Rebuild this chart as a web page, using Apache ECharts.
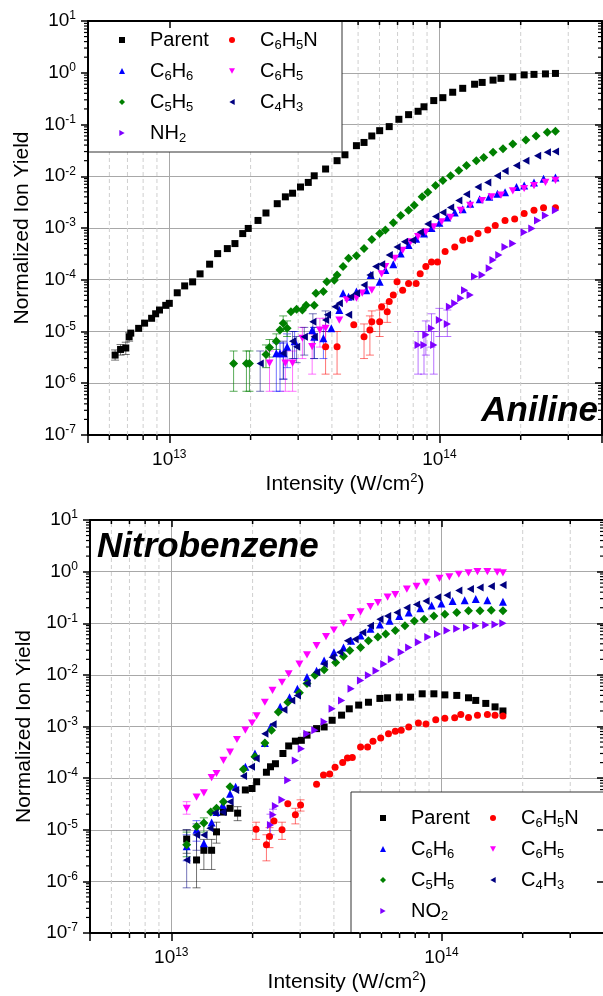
<!DOCTYPE html>
<html>
<head>
<meta charset="utf-8">
<script src="https://cdn.jsdelivr.net/npm/echarts/dist/echarts.min.js"></script>
<style>
html, body { margin: 0; background: #fff; }
#chart { width: 603px; height: 996px; }
</style>
</head>
<body>
<div id="chart"></div>
<script>
// ---- Aniline (top panel) : [intensity W/cm2, normalized yield]
var aniParent = [[6.3e12,3.5e-6],[6.6e12,4.5e-6],[6.9e12,4.8e-6],[7.1e12,7.9e-6],[7.2e12,9.3e-6],[7.7e12,1.15e-5],[8.1e12,1.45e-5],[8.6e12,1.8e-5],[8.9e12,2.2e-5],[9.2e12,2.6e-5],[9.7e12,3.2e-5],[1.0e13,3.5e-5],[1.07e13,5.6e-5],[1.14e13,7.6e-5],[1.22e13,9.1e-5],[1.30e13,1.3e-4],[1.41e13,2.0e-4],[1.51e13,3.2e-4],[1.64e13,4.0e-4],[1.75e13,5.0e-4],[1.87e13,7.8e-4],[1.96e13,9.8e-4],[2.13e13,1.4e-3],[2.28e13,1.95e-3],[2.51e13,2.95e-3],[2.69e13,4.0e-3],[2.86e13,4.7e-3],[3.06e13,6.2e-3],[3.27e13,7.6e-3],[3.44e13,1.02e-2],[3.79e13,1.38e-2],[4.18e13,2.0e-2],[4.47e13,2.6e-2],[4.93e13,3.9e-2],[5.26e13,4.5e-2],[5.62e13,6.0e-2],[6.01e13,7.6e-2],[6.52e13,9.1e-2],[7.08e13,0.126],[7.69e13,0.155],[8.34e13,0.18],[8.77e13,0.22],[9.53e13,0.29],[1.03e14,0.33],[1.12e14,0.42],[1.22e14,0.50],[1.35e14,0.60],[1.44e14,0.65],[1.58e14,0.72],[1.69e14,0.78],[1.87e14,0.83],[2.06e14,0.91],[2.24e14,0.93],[2.47e14,0.95],[2.69e14,0.97]];
var aniC6H5N = [[3.79e13,5.1e-6],[4.18e13,5.1e-6],[4.82e13,1.35e-5],[5.26e13,7.9e-6],[5.53e13,1.07e-5],[5.62e13,1.55e-5],[6.01e13,1.55e-5],[6.11e13,3.0e-5],[6.41e13,2.4e-5],[6.52e13,3.8e-5],[6.75e13,5.1e-5],[6.97e13,9.1e-5],[7.31e13,6.3e-5],[7.69e13,8.5e-5],[8.20e13,8.5e-5],[8.49e13,1.3e-4],[8.91e13,1.8e-4],[9.35e13,2.2e-4],[9.84e13,2.2e-4],[1.05e14,3.5e-4],[1.14e14,4.3e-4],[1.22e14,5.8e-4],[1.30e14,6.2e-4],[1.39e14,7.8e-4],[1.51e14,9.1e-4],[1.61e14,1.12e-3],[1.75e14,1.4e-3],[1.90e14,1.5e-3],[2.06e14,1.9e-3],[2.24e14,2.2e-3],[2.43e14,2.45e-3],[2.69e14,2.45e-3]];
var aniC6H6 = [[2.49e13,3.8e-6],[2.57e13,3.8e-6],[2.65e13,3.8e-6],[2.73e13,5.1e-6],[2.91e13,6.5e-6],[3.38e13,1.07e-5],[3.44e13,7.9e-6],[3.72e13,7.4e-6],[3.98e13,1.15e-5],[4.26e13,2.6e-5],[4.40e13,5.5e-5],[4.61e13,4.7e-5],[4.93e13,5.9e-5],[5.36e13,6.3e-5],[5.57e13,1.23e-4],[6.01e13,9.1e-5],[6.31e13,1.55e-4],[6.75e13,2.0e-4],[7.19e13,3.2e-4],[7.69e13,4.7e-4],[8.20e13,6.2e-4],[8.77e13,7.8e-4],[9.35e13,1.0e-3],[1.0e14,1.26e-3],[1.07e14,1.6e-3],[1.14e14,2.0e-3],[1.22e14,2.3e-3],[1.30e14,2.95e-3],[1.41e14,3.6e-3],[1.53e14,4.0e-3],[1.64e14,4.6e-3],[1.75e14,4.9e-3],[1.93e14,6.2e-3],[2.06e14,6.6e-3],[2.24e14,7.6e-3],[2.43e14,8.9e-3],[2.69e14,9.5e-3]];
var aniC6H5 = [[2.35e13,2.45e-6],[2.69e13,2.45e-6],[2.86e13,2.45e-6],[3.11e13,7.4e-6],[3.38e13,5.1e-6],[3.61e13,1.07e-5],[3.79e13,1.15e-5],[4.26e13,1.66e-5],[4.54e13,4.1e-5],[4.93e13,4.4e-5],[5.18e13,5.5e-5],[5.62e13,6.3e-5],[6.11e13,1.3e-4],[6.31e13,1.8e-4],[6.85e13,2.6e-4],[7.31e13,3.7e-4],[7.82e13,5.4e-4],[8.34e13,6.8e-4],[8.91e13,8.3e-4],[9.53e13,1.05e-3],[1.02e14,1.32e-3],[1.10e14,1.6e-3],[1.20e14,2.2e-3],[1.30e14,2.75e-3],[1.44e14,3.4e-3],[1.56e14,4.0e-3],[1.69e14,4.3e-3],[1.87e14,5.2e-3],[2.06e14,5.8e-3],[2.24e14,6.6e-3],[2.47e14,7.6e-3],[2.69e14,8.3e-3]];
var aniC5H5 = [[1.73e13,2.4e-6],[1.93e13,2.4e-6],[1.98e13,2.4e-6],[2.28e13,3.6e-6],[2.35e13,4.9e-6],[2.49e13,6.5e-6],[2.57e13,1.07e-5],[2.64e13,1.45e-5],[2.73e13,1.15e-5],[2.82e13,2.4e-5],[2.96e13,2.7e-5],[3.11e13,2.6e-5],[3.21e13,3.2e-5],[3.44e13,3.2e-5],[3.49e13,5.5e-5],[3.72e13,5.9e-5],[3.83e13,9.1e-5],[4.08e13,9.8e-5],[4.18e13,1.23e-4],[4.40e13,1.8e-4],[4.61e13,2.6e-4],[4.93e13,2.9e-4],[5.26e13,4.0e-4],[5.62e13,6.0e-4],[6.01e13,7.8e-4],[6.31e13,9.1e-4],[6.75e13,1.26e-3],[7.19e13,1.74e-3],[7.69e13,2.2e-3],[8.07e13,2.75e-3],[8.63e13,4.0e-3],[9.06e13,4.9e-3],[9.68e13,6.6e-3],[1.03e14,8.3e-3],[1.10e14,1.02e-2],[1.18e14,1.29e-2],[1.26e14,1.62e-2],[1.37e14,2.0e-2],[1.46e14,2.3e-2],[1.58e14,2.9e-2],[1.72e14,3.4e-2],[1.87e14,4.2e-2],[2.09e14,5.0e-2],[2.28e14,6.0e-2],[2.51e14,7.1e-2],[2.69e14,7.4e-2]];
var aniC4H3 = [[2.17e13,2.4e-6],[2.64e13,3.8e-6],[2.86e13,6.5e-6],[2.96e13,5.1e-6],[3.16e13,7.9e-6],[3.44e13,7.9e-6],[3.40e13,1.55e-5],[3.79e13,1.66e-5],[3.85e13,2.1e-5],[4.11e13,3.0e-5],[4.26e13,3.5e-5],[4.61e13,2.1e-5],[4.69e13,4.7e-5],[4.93e13,5.5e-5],[5.26e13,7.9e-5],[5.53e13,1.23e-4],[5.81e13,1.8e-4],[6.11e13,2.0e-4],[6.52e13,3.0e-4],[6.97e13,4.3e-4],[7.43e13,5.4e-4],[7.94e13,5.8e-4],[8.49e13,8.3e-4],[9.06e13,1.2e-3],[9.68e13,1.66e-3],[1.03e14,2.0e-3],[1.10e14,2.5e-3],[1.18e14,3.4e-3],[1.26e14,4.5e-3],[1.39e14,6.2e-3],[1.51e14,7.6e-3],[1.64e14,1.02e-2],[1.75e14,1.26e-2],[1.93e14,1.62e-2],[2.09e14,2.0e-2],[2.31e14,2.5e-2],[2.51e14,2.9e-2],[2.69e14,3.0e-2]];
var aniNH2 = [[8.34e13,5.5e-6],[8.77e13,5.5e-6],[9.53e13,5.5e-6],[8.91e13,8.7e-6],[9.35e13,1.15e-5],[1.0e14,1.66e-5],[1.07e14,1.4e-5],[1.09e14,3.0e-5],[1.14e14,3.5e-5],[1.20e14,4.4e-5],[1.24e14,6.3e-5],[1.30e14,5.1e-5],[1.35e14,1.15e-4],[1.44e14,1.23e-4],[1.53e14,1.66e-4],[1.58e14,2.4e-4],[1.66e14,3.0e-4],[1.75e14,4.3e-4],[1.87e14,5.0e-4],[2.06e14,8.3e-4],[2.20e14,9.8e-4],[2.31e14,1.4e-3],[2.47e14,1.74e-3],[2.69e14,2.2e-3]];

// error bars: [intensity, low, high]
var aniErrParent = [[6.3e12,2.8e-6,4.4e-6],[6.6e12,3.5e-6,5.6e-6],[6.9e12,3.6e-6,6.2e-6],[7.1e12,6.5e-6,9.5e-6]];
var aniErrC6H5N = [[3.79e13,1.5e-6,1.0e-5],[4.18e13,1.5e-6,1.0e-5],[5.26e13,3e-6,1.4e-5],[5.53e13,3.5e-6,2e-5],[5.62e13,1.0e-5,2.5e-5],[6.01e13,8e-6,2.6e-5],[6.41e13,1.5e-5,3.5e-5]];
var aniErrC6H6 = [[2.49e13,7e-7,6e-6],[2.57e13,7e-7,6e-6],[2.65e13,1.2e-6,6e-6],[2.73e13,2e-6,9e-6],[2.91e13,3e-6,1.0e-5],[3.44e13,3e-6,1.2e-5],[3.72e13,3e-6,1.2e-5]];
var aniErrC6H5 = [[2.35e13,7e-7,4.2e-6],[2.69e13,7e-7,4.2e-6],[2.86e13,7e-7,4.2e-6],[3.11e13,3e-6,1.2e-5],[3.38e13,1.5e-6,9e-6],[3.61e13,5e-6,1.8e-5],[3.79e13,5e-6,1.8e-5]];
var aniErrC5H5 = [[1.73e13,7e-7,4.2e-6],[1.93e13,7e-7,4.2e-6],[1.98e13,7e-7,4.2e-6],[2.28e13,2e-6,5.5e-6],[2.35e13,3.2e-6,7e-6],[2.49e13,4.5e-6,9e-6],[2.64e13,1.0e-5,2.0e-5],[2.73e13,8e-6,1.6e-5]];
var aniErrC4H3 = [[2.17e13,7e-7,4.2e-6],[2.64e13,1.2e-6,6.5e-6],[2.86e13,3e-6,1.0e-5],[2.96e13,2.5e-6,8e-6],[3.16e13,3.5e-6,1.2e-5],[3.44e13,3e-6,1.2e-5],[3.40e13,9e-6,2.2e-5],[3.79e13,1.0e-5,2.5e-5]];
var aniErrNH2 = [[8.34e13,1.5e-6,1e-5],[8.77e13,1.5e-6,1e-5],[9.53e13,1.5e-6,1e-5],[8.91e13,3.5e-6,1.6e-5],[9.35e13,5e-6,2.2e-5],[1.0e14,8e-6,2.8e-5],[1.07e14,8e-6,2.6e-5]];

// ---- Nitrobenzene (bottom panel)
var nbParent = [[1.14e13,6.6e-6],[1.24e13,2.6e-6],[1.32e13,4.0e-6],[1.41e13,4.0e-6],[1.47e13,9.1e-6],[1.56e13,2.2e-5],[1.65e13,2.6e-5],[1.76e13,2.1e-5],[1.88e13,5.9e-5],[1.99e13,6.3e-5],[2.07e13,8.5e-5],[2.25e13,1.3e-4],[2.33e13,1.66e-4],[2.43e13,1.9e-4],[2.59e13,3.0e-4],[2.72e13,4.2e-4],[2.88e13,5.2e-4],[3.03e13,5.4e-4],[3.18e13,6.8e-4],[3.45e13,9.1e-4],[3.68e13,9.8e-4],[3.94e13,1.32e-3],[4.27e13,1.66e-3],[4.56e13,2.2e-3],[4.94e13,2.6e-3],[5.37e13,2.95e-3],[5.92e13,3.5e-3],[6.32e13,3.6e-3],[6.98e13,3.7e-3],[7.69e13,3.7e-3],[8.49e13,4.3e-3],[9.38e13,4.3e-3],[1.03e14,4.1e-3],[1.14e14,4.0e-3],[1.26e14,3.6e-3],[1.34e14,3.2e-3],[1.46e14,2.8e-3],[1.58e14,2.4e-3],[1.69e14,2.0e-3]];
var nbC6H5N = [[2.06e13,1.02e-5],[2.25e13,5.1e-6],[2.31e13,7.4e-6],[2.40e13,1.48e-5],[2.57e13,1.0e-5],[2.70e13,3.2e-5],[2.88e13,1.95e-5],[3.01e13,3.0e-5],[3.45e13,7.6e-5],[3.66e13,1.15e-4],[3.86e13,1.2e-4],[4.04e13,1.62e-4],[4.31e13,2.0e-4],[4.49e13,2.45e-4],[4.68e13,2.5e-4],[5.02e13,4.0e-4],[5.33e13,4.0e-4],[5.58e13,5.2e-4],[5.96e13,6.0e-4],[6.37e13,7.2e-4],[6.75e13,8.1e-4],[7.10e13,8.5e-4],[7.57e13,9.8e-4],[8.22e13,1.17e-3],[8.77e13,1.12e-3],[9.53e13,1.35e-3],[1.03e14,1.45e-3],[1.12e14,1.48e-3],[1.18e14,1.7e-3],[1.26e14,1.5e-3],[1.36e14,1.66e-3],[1.48e14,1.7e-3],[1.58e14,1.66e-3],[1.69e14,1.6e-3]];
var nbC6H6 = [[1.14e13,4.8e-6],[1.24e13,1.0e-5],[1.32e13,5.5e-6],[1.41e13,1.38e-5],[1.47e13,2.2e-5],[1.55e13,3.0e-5],[1.65e13,5.0e-5],[1.73e13,6.8e-5],[1.88e13,1.66e-4],[2.04e13,3.0e-4],[2.22e13,4.8e-4],[2.33e13,9.8e-4],[2.53e13,2.4e-3],[2.74e13,3.7e-3],[2.93e13,5.4e-3],[3.18e13,9.1e-3],[3.45e13,1.2e-2],[3.68e13,1.9e-2],[4.00e13,2.75e-2],[4.34e13,3.4e-2],[4.63e13,4.6e-2],[5.02e13,5.8e-2],[5.46e13,7.8e-2],[5.92e13,9.5e-2],[6.43e13,0.112],[6.98e13,0.138],[7.57e13,0.162],[8.36e13,0.195],[9.20e13,0.22],[1.0e14,0.24],[1.10e14,0.27],[1.22e14,0.28],[1.34e14,0.295],[1.48e14,0.28],[1.69e14,0.26]];
var nbC6H5 = [[1.14e13,2.6e-5],[1.24e13,4.3e-5],[1.32e13,5.2e-5],[1.41e13,1.02e-4],[1.47e13,1.23e-4],[1.56e13,2.2e-4],[1.65e13,3.2e-4],[1.75e13,5.6e-4],[1.88e13,8.5e-4],[1.99e13,1.17e-3],[2.07e13,1.6e-3],[2.22e13,2.95e-3],[2.37e13,5.0e-3],[2.57e13,7.2e-3],[2.72e13,1.05e-2],[2.98e13,1.62e-2],[3.18e13,2.45e-2],[3.45e13,3.7e-2],[3.74e13,5.5e-2],[4.00e13,7.4e-2],[4.34e13,0.10],[4.63e13,0.129],[5.02e13,0.166],[5.46e13,0.21],[5.82e13,0.25],[6.32e13,0.32],[6.75e13,0.36],[7.45e13,0.46],[8.09e13,0.52],[8.77e13,0.62],[9.84e13,0.74],[1.07e14,0.79],[1.16e14,0.89],[1.26e14,0.95],[1.36e14,1.0],[1.48e14,1.0],[1.61e14,0.98],[1.69e14,0.95]];
var nbC5H5 = [[1.14e13,5.1e-6],[1.24e13,1.15e-5],[1.32e13,1.35e-5],[1.40e13,2.2e-5],[1.47e13,2.6e-5],[1.56e13,3.5e-5],[1.65e13,6.8e-5],[1.85e13,1.48e-4],[2.04e13,2.6e-4],[2.22e13,4.8e-4],[2.35e13,8.5e-4],[2.49e13,1.9e-3],[2.70e13,2.95e-3],[2.98e13,4.5e-3],[3.18e13,6.8e-3],[3.40e13,9.8e-3],[3.68e13,1.26e-2],[4.06e13,1.74e-2],[4.34e13,2.3e-2],[4.58e13,2.95e-2],[5.02e13,3.4e-2],[5.37e13,4.6e-2],[5.82e13,5.4e-2],[6.22e13,6.2e-2],[6.75e13,7.2e-2],[7.33e13,8.9e-2],[7.94e13,0.11],[8.63e13,0.12],[9.38e13,0.138],[1.03e14,0.15],[1.14e14,0.162],[1.26e14,0.174],[1.39e14,0.174],[1.53e14,0.178],[1.69e14,0.174]];
var nbC4H3 = [[1.14e13,2.6e-6],[1.24e13,7.9e-6],[1.32e13,7.9e-6],[1.39e13,1.07e-5],[1.45e13,2.1e-5],[1.55e13,2.2e-5],[1.65e13,3.5e-5],[1.73e13,5.9e-5],[1.85e13,1.1e-4],[1.98e13,1.66e-4],[2.06e13,2.4e-4],[2.22e13,7.2e-4],[2.38e13,1.1e-3],[2.61e13,2.1e-3],[2.79e13,3.2e-3],[2.93e13,4.0e-3],[3.18e13,6.9e-3],[3.45e13,1.12e-2],[3.68e13,1.62e-2],[3.94e13,2.2e-2],[4.20e13,2.75e-2],[4.49e13,4.6e-2],[4.79e13,4.9e-2],[5.11e13,6.6e-2],[5.46e13,8.9e-2],[5.92e13,0.12],[6.32e13,0.138],[6.85e13,0.162],[7.45e13,0.20],[8.09e13,0.23],[8.77e13,0.27],[9.68e13,0.32],[1.05e14,0.35],[1.16e14,0.43],[1.28e14,0.46],[1.39e14,0.49],[1.53e14,0.52],[1.69e14,0.55]];
var nbNO2 = [[2.33e13,1.23e-5],[2.38e13,1.95e-5],[2.43e13,2.9e-5],[2.57e13,3.8e-5],[2.70e13,9.1e-5],[2.88e13,2.2e-4],[3.03e13,3.7e-4],[3.18e13,7.2e-4],[3.40e13,8.5e-4],[3.68e13,1.23e-3],[3.94e13,2.2e-3],[4.27e13,3.2e-3],[4.63e13,5.4e-3],[5.02e13,7.8e-3],[5.37e13,9.8e-3],[5.73e13,1.2e-2],[6.12e13,1.62e-2],[6.53e13,2.0e-2],[7.10e13,2.75e-2],[7.57e13,3.4e-2],[8.22e13,4.3e-2],[8.91e13,5.4e-2],[9.68e13,6.2e-2],[1.05e14,7.2e-2],[1.14e14,7.8e-2],[1.24e14,8.3e-2],[1.34e14,8.9e-2],[1.46e14,9.3e-2],[1.58e14,9.5e-2],[1.69e14,0.10]];

var nbErrParent = [[1.14e13,3.5e-6,1.0e-5],[1.24e13,7.5e-7,8e-6],[1.32e13,1.7e-6,6.5e-6],[1.41e13,1.7e-6,6.5e-6],[1.47e13,5.5e-6,1.4e-5],[1.76e13,1.5e-5,2.8e-5]];
var nbErrC6H5N = [[2.06e13,6.5e-6,1.4e-5],[2.25e13,2.5e-6,8e-6],[2.31e13,4.5e-6,1.1e-5],[2.57e13,6.5e-6,1.4e-5],[2.88e13,1.3e-5,2.6e-5],[3.01e13,2.3e-5,3.8e-5]];
var nbErrC6H6 = [[1.14e13,2.5e-6,8e-6],[1.24e13,6e-6,1.5e-5]];
var nbErrC6H5 = [[1.14e13,2e-5,3.5e-5]];
var nbErrC5H5 = [[1.14e13,3e-6,9e-6],[1.32e13,9e-6,1.7e-5]];
var nbErrC4H3 = [[1.14e13,7.5e-7,1.0e-5],[1.24e13,4e-6,1.3e-5]];
var nbErrNO2 = [[2.33e13,8e-6,2e-5],[2.38e13,1.4e-5,2.5e-5]];

// axes
var X_MIN = 5e12, X_MAX = 4e14, Y_MIN = 1e-7, Y_MAX = 10;
var xMinorTicks = [6e12,7e12,8e12,9e12,2e13,3e13,4e13,5e13,6e13,7e13,8e13,9e13,2e14,3e14];
var yMinorMult = [2,3,4,5,6,7,8,9];
var yDecades = [-7,-6,-5,-4,-3,-2,-1,0];

var FONT = 'Liberation Sans, Arial, sans-serif';

var C = {
  Parent: '#000000', C6H5N: '#ff0000', C6H6: '#0000ff', C6H5: '#ff00ff',
  C5H5: '#008000', C4H3: '#000080', NH2: '#8000ff', NO2: '#8000ff'
};
var ERRC = {
  Parent: 'rgba(0,0,0,0.55)', C6H5N: 'rgba(255,0,0,0.55)', C6H6: 'rgba(0,0,255,0.55)', C6H5: 'rgba(255,0,255,0.55)',
  C5H5: 'rgba(0,128,0,0.65)', C4H3: 'rgba(0,0,128,0.55)', NH2: 'rgba(128,0,255,0.55)', NO2: 'rgba(128,0,255,0.55)'
};
var SYM = {
  Parent: ['rect', 7], C6H5N: ['circle', 7], C6H6: ['triangle', 8],
  C6H5: ['path://M0,0L10,0L5,9Z', 8], C5H5: ['diamond', 9],
  C4H3: ['path://M9,0L9,10L0,5Z', 8], NH2: ['path://M0,0L9,5L0,10Z', 8], NO2: ['path://M0,0L9,5L0,10Z', 8]
};

var yMinorVals = [];
yDecades.forEach(function (d) {
  yMinorMult.forEach(function (m) { yMinorVals.push(m * Math.pow(10, d)); });
});

function isPow10(v) {
  var l = Math.log10(v);
  return Math.abs(l - Math.round(l)) < 1e-6;
}
function powLabel(v) {
  if (!isPow10(v)) return '';
  return '10{sup|' + Math.round(Math.log10(v)) + '}';
}
var labelRich = {
  sup: { fontSize: 12, fontFamily: FONT, color: '#000', verticalAlign: 'top', lineHeight: 9 }
};

function mainX(g) {
  return {
    type: 'log', gridIndex: g, min: X_MIN, max: X_MAX, position: 'bottom',
    name: 'Intensity (W/cm{sup|2})', nameLocation: 'middle', nameGap: 35,
    nameTextStyle: { fontSize: 21, fontFamily: FONT, color: '#000', lineHeight: 24,
      rich: { sup: { fontSize: 13, fontFamily: FONT, color: '#000', verticalAlign: 'top', lineHeight: 10 } } },
    axisLine: { onZero: false, lineStyle: { color: '#000', width: 2 } },
    axisTick: { inside: false, length: 8, lineStyle: { color: '#000', width: 1.5 } },
    axisLabel: { formatter: powLabel, fontSize: 19, fontFamily: FONT, color: '#000', margin: 14, lineHeight: 22, rich: labelRich },
    splitLine: { show: true, lineStyle: { color: '#a8a8a8', width: 1 } },
    minorTick: { show: false }
  };
}
function mirrorX(g) {
  return {
    type: 'log', gridIndex: g, min: X_MIN, max: X_MAX, position: 'top', z: 10,
    axisLine: { onZero: false, lineStyle: { color: '#000', width: 2 } },
    axisTick: { inside: true, length: 7, lineStyle: { color: '#000', width: 1.5 } },
    axisLabel: { show: false }, splitLine: { show: false }
  };
}
function mainY(g) {
  return {
    type: 'log', gridIndex: g, min: Y_MIN, max: Y_MAX, position: 'left', splitNumber: 8,
    name: 'Normalized Ion Yield', nameLocation: 'middle', nameGap: 55,
    nameTextStyle: { fontSize: 21, fontFamily: FONT, color: '#000' },
    axisLine: { onZero: false, lineStyle: { color: '#000', width: 2 } },
    axisTick: { inside: false, length: 7, lineStyle: { color: '#000', width: 1.5 } },
    axisLabel: { formatter: powLabel, fontSize: 19, fontFamily: FONT, color: '#000', margin: 12, lineHeight: 22, rich: labelRich },
    splitLine: { show: true, lineStyle: { color: '#a8a8a8', width: 1 } }
  };
}
function mirrorY(g) {
  return {
    type: 'log', gridIndex: g, min: Y_MIN, max: Y_MAX, position: 'right', splitNumber: 8, z: 10,
    axisLine: { onZero: false, lineStyle: { color: '#000', width: 2 } },
    axisTick: { inside: true, length: 7, lineStyle: { color: '#000', width: 1.5 } },
    axisLabel: { show: false }, splitLine: { show: false }
  };
}

function pts(name, data, g) {
  return {
    name: name, type: 'scatter', xAxisIndex: g * 2, yAxisIndex: g * 2, data: data,
    symbol: SYM[name][0], symbolSize: SYM[name][1], symbolKeepAspect: true,
    itemStyle: { color: C[name], opacity: 1 }, z: 4, silent: true
  };
}
function errs(name, data, g) {
  var col = ERRC[name];
  return {
    type: 'custom', xAxisIndex: g * 2, yAxisIndex: g * 2, data: data, z: 3, silent: true,
    encode: { x: 0, y: [1, 2] },
    renderItem: function (p, api) {
      var a = api.coord([api.value(0), api.value(1)]);
      var b = api.coord([api.value(0), api.value(2)]);
      var w = 4;
      var st = { stroke: col, lineWidth: 1 };
      return { type: 'group', children: [
        { type: 'line', shape: { x1: a[0], y1: a[1], x2: b[0], y2: b[1] }, style: st },
        { type: 'line', shape: { x1: a[0] - w, y1: a[1], x2: a[0] + w, y2: a[1] }, style: st },
        { type: 'line', shape: { x1: b[0] - w, y1: b[1], x2: b[0] + w, y2: b[1] }, style: st }
      ] };
    }
  };
}
function minorX(g) {
  return {
    type: 'custom', xAxisIndex: g * 2, yAxisIndex: g * 2, z: 1, silent: true,
    data: xMinorTicks.map(function (v) { return [v, Y_MIN]; }),
    encode: { x: 0, y: 1 },
    renderItem: function (p, api) {
      var v = api.value(0);
      var b = api.coord([v, Y_MIN]), t = api.coord([v, Y_MAX]);
      return { type: 'group', children: [
        { type: 'line', shape: { x1: b[0], y1: b[1], x2: t[0], y2: t[1] }, style: { stroke: '#cfcfcf', lineWidth: 1, lineDash: [4, 3] } },
        { type: 'line', shape: { x1: b[0], y1: b[1], x2: b[0], y2: b[1] + 5 }, style: { stroke: '#000', lineWidth: 1.5 } },
        { type: 'line', shape: { x1: t[0], y1: t[1], x2: t[0], y2: t[1] + 4 }, style: { stroke: '#000', lineWidth: 1.5 } }
      ] };
    }
  };
}
function minorY(g) {
  return {
    type: 'custom', xAxisIndex: g * 2, yAxisIndex: g * 2, z: 1, silent: true,
    data: yMinorVals.map(function (v) { return [X_MIN, v]; }),
    encode: { x: 0, y: 1 },
    renderItem: function (p, api) {
      var v = api.value(1);
      var l = api.coord([X_MIN, v]), r = api.coord([X_MAX, v]);
      return { type: 'group', children: [
        { type: 'line', shape: { x1: l[0] - 4, y1: l[1], x2: l[0], y2: l[1] }, style: { stroke: '#000', lineWidth: 1.2 } },
        { type: 'line', shape: { x1: r[0] - 4, y1: r[1], x2: r[0], y2: r[1] }, style: { stroke: '#000', lineWidth: 1.2 } }
      ] };
    }
  };
}

function legend(names, left, top) {
  return {
    data: names, orient: 'vertical', left: left, top: top, padding: 0, itemGap: 7,
    itemWidth: 6, itemHeight: 6, z: 8, selectedMode: false,
    formatter: function (n) { return n.replace(/(\d+)/g, '{s|$1}'); },
    textStyle: {
      fontSize: 20, fontFamily: FONT, color: '#000', lineHeight: 24, padding: [0, 0, 0, 20],
      rich: { s: { fontSize: 13, fontFamily: FONT, color: '#000', verticalAlign: 'bottom', lineHeight: 6 } }
    }
  };
}

var series = [
  minorX(0), minorY(0), minorX(1), minorY(1),
  errs('Parent', aniErrParent, 0), errs('C6H5N', aniErrC6H5N, 0), errs('C6H6', aniErrC6H6, 0),
  errs('C6H5', aniErrC6H5, 0), errs('C5H5', aniErrC5H5, 0), errs('C4H3', aniErrC4H3, 0), errs('NH2', aniErrNH2, 0),
  pts('Parent', aniParent, 0), pts('C6H5N', aniC6H5N, 0), pts('C6H6', aniC6H6, 0), pts('C6H5', aniC6H5, 0),
  pts('C5H5', aniC5H5, 0), pts('C4H3', aniC4H3, 0), pts('NH2', aniNH2, 0),
  errs('Parent', nbErrParent, 1), errs('C6H5N', nbErrC6H5N, 1), errs('C6H6', nbErrC6H6, 1),
  errs('C6H5', nbErrC6H5, 1), errs('C5H5', nbErrC5H5, 1), errs('C4H3', nbErrC4H3, 1), errs('NO2', nbErrNO2, 1),
  pts('Parent', nbParent, 1), pts('C6H5N', nbC6H5N, 1), pts('C6H6', nbC6H6, 1), pts('C6H5', nbC6H5, 1),
  pts('C5H5', nbC5H5, 1), pts('C4H3', nbC4H3, 1), pts('NO2', nbNO2, 1)
];

var chart = echarts.init(document.getElementById('chart'), null, { renderer: 'canvas' });
chart.setOption({
  animation: false,
  backgroundColor: '#fff',
  grid: [
    { left: 88, top: 21, width: 514, height: 414, containLabel: false, outerBoundsMode: 'none' },
    { left: 90, top: 520, width: 514, height: 413, containLabel: false, outerBoundsMode: 'none' }
  ],
  xAxis: [mainX(0), mirrorX(0), mainX(1), mirrorX(1)],
  yAxis: [mainY(0), mirrorY(0), mainY(1), mirrorY(1)],
  legend: [
    legend(['Parent', 'C6H6', 'C5H5', 'NH2'], 119, 28),
    legend(['C6H5N', 'C6H5', 'C4H3'], 229, 28),
    legend(['Parent', 'C6H6', 'C5H5', 'NO2'], 380, 806),
    legend(['C6H5N', 'C6H5', 'C4H3'], 490, 806)
  ],
  graphic: [
    { type: 'rect', z: 6, silent: true, shape: { x: 89, y: 22, width: 253, height: 130 }, style: { fill: '#fff' } },
    { type: 'polyline', z: 7, silent: true, shape: { points: [[342, 22], [342, 152], [89, 152]] }, style: { stroke: '#333', lineWidth: 1, fill: null } },
    { type: 'rect', z: 6, silent: true, shape: { x: 351, y: 792, width: 252, height: 140 }, style: { fill: '#fff' } },
    { type: 'polyline', z: 7, silent: true, shape: { points: [[351, 932], [351, 792], [603, 792]] }, style: { stroke: '#333', lineWidth: 1, fill: null } },
    { type: 'text', z: 7, silent: true, style: { text: 'Aniline', x: 598, y: 411, align: 'right', verticalAlign: 'middle', font: 'italic bold 35px ' + FONT, fill: '#000' } },
    { type: 'text', z: 7, silent: true, style: { text: 'Nitrobenzene', x: 97, y: 547, align: 'left', verticalAlign: 'middle', font: 'italic bold 35px ' + FONT, fill: '#000' } }
  ],
  series: series
});
</script>
</body>
</html>
